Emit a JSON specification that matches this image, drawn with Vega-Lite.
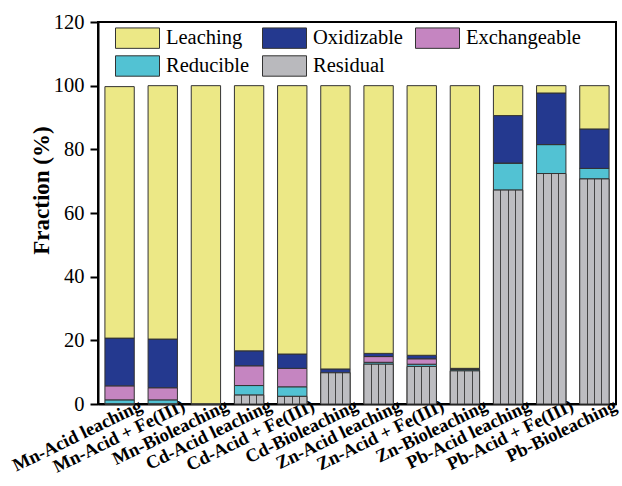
{
  "$schema": "https://vega.github.io/schema/vega-lite/v6.json",
  "width": 518,
  "height": 382,
  "autosize": {"type": "none"},
  "padding": {"left": 98, "top": 22, "right": 6, "bottom": 82},
  "background": "white",
  "config": {
    "view": {"stroke": "black", "strokeWidth": 2},
    "font": "Liberation Serif",
    "axis": {"domainColor": "black", "domainWidth": 2, "tickColor": "black", "tickWidth": 2, "labelColor": "black", "titleColor": "black", "labelFont": "Liberation Serif", "titleFont": "Liberation Serif", "grid": false}
  },
  "data": {"values": [
    {"condition": "Mn-Acid leaching", "fraction": "Residual", "value": 0},
    {"condition": "Mn-Acid leaching", "fraction": "Reducible", "value": 1.3},
    {"condition": "Mn-Acid leaching", "fraction": "Exchangeable", "value": 4.4},
    {"condition": "Mn-Acid leaching", "fraction": "Oxidizable", "value": 15.0},
    {"condition": "Mn-Acid leaching", "fraction": "Leaching", "value": 79.0},
    {"condition": "Mn-Acid + Fe(III)", "fraction": "Residual", "value": 0},
    {"condition": "Mn-Acid + Fe(III)", "fraction": "Reducible", "value": 1.3},
    {"condition": "Mn-Acid + Fe(III)", "fraction": "Exchangeable", "value": 3.8},
    {"condition": "Mn-Acid + Fe(III)", "fraction": "Oxidizable", "value": 15.3},
    {"condition": "Mn-Acid + Fe(III)", "fraction": "Leaching", "value": 79.6},
    {"condition": "Mn-Bioleaching", "fraction": "Residual", "value": 0},
    {"condition": "Mn-Bioleaching", "fraction": "Reducible", "value": 0},
    {"condition": "Mn-Bioleaching", "fraction": "Exchangeable", "value": 0},
    {"condition": "Mn-Bioleaching", "fraction": "Oxidizable", "value": 0},
    {"condition": "Mn-Bioleaching", "fraction": "Leaching", "value": 100},
    {"condition": "Cd-Acid leaching", "fraction": "Residual", "value": 2.8},
    {"condition": "Cd-Acid leaching", "fraction": "Reducible", "value": 3.0},
    {"condition": "Cd-Acid leaching", "fraction": "Exchangeable", "value": 6.2},
    {"condition": "Cd-Acid leaching", "fraction": "Oxidizable", "value": 4.7},
    {"condition": "Cd-Acid leaching", "fraction": "Leaching", "value": 83.3},
    {"condition": "Cd-Acid + Fe(III)", "fraction": "Residual", "value": 2.4},
    {"condition": "Cd-Acid + Fe(III)", "fraction": "Reducible", "value": 3.0},
    {"condition": "Cd-Acid + Fe(III)", "fraction": "Exchangeable", "value": 5.8},
    {"condition": "Cd-Acid + Fe(III)", "fraction": "Oxidizable", "value": 4.5},
    {"condition": "Cd-Acid + Fe(III)", "fraction": "Leaching", "value": 84.3},
    {"condition": "Cd-Bioleaching", "fraction": "Residual", "value": 9.8},
    {"condition": "Cd-Bioleaching", "fraction": "Reducible", "value": 0},
    {"condition": "Cd-Bioleaching", "fraction": "Exchangeable", "value": 0},
    {"condition": "Cd-Bioleaching", "fraction": "Oxidizable", "value": 1.2},
    {"condition": "Cd-Bioleaching", "fraction": "Leaching", "value": 89.0},
    {"condition": "Zn-Acid leaching", "fraction": "Residual", "value": 12.5},
    {"condition": "Zn-Acid leaching", "fraction": "Reducible", "value": 0.6},
    {"condition": "Zn-Acid leaching", "fraction": "Exchangeable", "value": 1.8},
    {"condition": "Zn-Acid leaching", "fraction": "Oxidizable", "value": 1.0},
    {"condition": "Zn-Acid leaching", "fraction": "Leaching", "value": 84.1},
    {"condition": "Zn-Acid + Fe(III)", "fraction": "Residual", "value": 11.8},
    {"condition": "Zn-Acid + Fe(III)", "fraction": "Reducible", "value": 0.7},
    {"condition": "Zn-Acid + Fe(III)", "fraction": "Exchangeable", "value": 1.7},
    {"condition": "Zn-Acid + Fe(III)", "fraction": "Oxidizable", "value": 1.1},
    {"condition": "Zn-Acid + Fe(III)", "fraction": "Leaching", "value": 84.7},
    {"condition": "Zn-Bioleaching", "fraction": "Residual", "value": 10.4},
    {"condition": "Zn-Bioleaching", "fraction": "Reducible", "value": 0.5},
    {"condition": "Zn-Bioleaching", "fraction": "Exchangeable", "value": 0},
    {"condition": "Zn-Bioleaching", "fraction": "Oxidizable", "value": 0.3},
    {"condition": "Zn-Bioleaching", "fraction": "Leaching", "value": 88.8},
    {"condition": "Pb-Acid leaching", "fraction": "Residual", "value": 67.2},
    {"condition": "Pb-Acid leaching", "fraction": "Reducible", "value": 8.5},
    {"condition": "Pb-Acid leaching", "fraction": "Exchangeable", "value": 0},
    {"condition": "Pb-Acid leaching", "fraction": "Oxidizable", "value": 14.9},
    {"condition": "Pb-Acid leaching", "fraction": "Leaching", "value": 9.4},
    {"condition": "Pb-Acid + Fe(III)", "fraction": "Residual", "value": 72.4},
    {"condition": "Pb-Acid + Fe(III)", "fraction": "Reducible", "value": 9.1},
    {"condition": "Pb-Acid + Fe(III)", "fraction": "Exchangeable", "value": 0},
    {"condition": "Pb-Acid + Fe(III)", "fraction": "Oxidizable", "value": 16.2},
    {"condition": "Pb-Acid + Fe(III)", "fraction": "Leaching", "value": 2.3},
    {"condition": "Pb-Bioleaching", "fraction": "Residual", "value": 70.7},
    {"condition": "Pb-Bioleaching", "fraction": "Reducible", "value": 3.3},
    {"condition": "Pb-Bioleaching", "fraction": "Exchangeable", "value": 0},
    {"condition": "Pb-Bioleaching", "fraction": "Oxidizable", "value": 12.4},
    {"condition": "Pb-Bioleaching", "fraction": "Leaching", "value": 13.6}
  ]},
  "transform": [
    {"calculate": "indexof(['Residual','Reducible','Exchangeable','Oxidizable','Leaching'], datum.fraction)", "as": "stackOrder"}
  ],
  "encoding": {
    "x": {
      "field": "condition", "type": "nominal", "sort": null,
      "scale": {"paddingInner": 0.32, "paddingOuter": 0.16},
      "axis": {"title": null, "labelAngle": -26, "labelAlign": "right", "labelBaseline": "middle", "labelFontSize": 18.5, "labelFontWeight": "bold", "labelOffset": 21, "labelPadding": 0, "ticks": false}
    }
  },
  "layer": [
    {
      "mark": {"type": "bar", "stroke": "#333333", "strokeWidth": 1},
      "encoding": {
        "y": {
          "field": "value", "type": "quantitative", "stack": "zero",
          "scale": {"domain": [0, 120], "nice": false},
          "axis": {"title": "Fraction (%)", "titleFontSize": 23, "titleFontWeight": "bold", "titleX": -45, "titleY": 168, "titleAngle": 270, "titleAlign": "center", "titleBaseline": "bottom", "values": [0, 20, 40, 60, 80, 100, 120], "labelFontSize": 20.5, "tickSize": 8, "labelPadding": 6}
        },
        "order": {"field": "stackOrder", "type": "quantitative", "sort": "ascending"},
        "color": {
          "field": "fraction", "type": "nominal",
          "scale": {
            "domain": ["Leaching", "Oxidizable", "Exchangeable", "Reducible", "Residual"],
            "range": ["#ece886", "#24398f", "#c585c1", "#52c2d3", "#b9b9bd"]
          },
          "legend": {
            "title": null,
            "orient": "none", "legendX": 29, "legendY": 5.5,
            "direction": "horizontal", "columns": 3,
            "symbolType": "M-2.2,-1.02H2.2V1.02H-2.2Z", "symbolSize": 400,
            "symbolStrokeColor": "#333333", "symbolStrokeWidth": 1,
            "labelFont": "Liberation Serif", "labelFontSize": 20.5, "labelColor": "black", "labelOffset": 18,
            "columnPadding": 10, "rowPadding": 3, "padding": 0, "labelLimit": 200
          }
        }
      }
    },
    {
      "transform": [{"filter": "datum.fraction === 'Residual'"}],
      "mark": {
        "type": "bar", "stroke": "#333333", "strokeWidth": 1,
        "fill": {"gradient": "linear", "x1": 0, "y1": 0, "x2": 1, "y2": 0, "stops": [
          {"offset": 0, "color": "#bdbdc1"}, {"offset": 0.235, "color": "#bdbdc1"},
          {"offset": 0.235, "color": "#444444"}, {"offset": 0.265, "color": "#444444"},
          {"offset": 0.265, "color": "#bdbdc1"}, {"offset": 0.485, "color": "#bdbdc1"},
          {"offset": 0.485, "color": "#444444"}, {"offset": 0.515, "color": "#444444"},
          {"offset": 0.515, "color": "#bdbdc1"}, {"offset": 0.735, "color": "#bdbdc1"},
          {"offset": 0.735, "color": "#444444"}, {"offset": 0.765, "color": "#444444"},
          {"offset": 0.765, "color": "#bdbdc1"}, {"offset": 1, "color": "#bdbdc1"}
        ]}
      },
      "encoding": {
        "y": {"field": "value", "type": "quantitative", "stack": null}
      }
    }
  ]
}
